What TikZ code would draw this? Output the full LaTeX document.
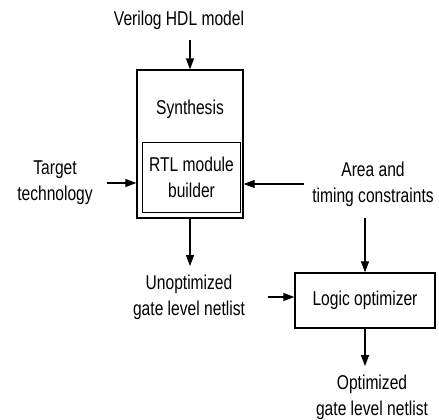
\documentclass[tikz,border=0pt]{standalone}
\usepackage{fontspec}
\setmainfont{Liberation Sans}[FakeStretch=0.78]
\usetikzlibrary{arrows.meta, positioning}

\begin{document}
\begin{tikzpicture}[
    x=1pt, y=1pt,
    every node/.style={font=\fontsize{20}{26}\selectfont, align=center, inner sep=2pt},
    block/.style={draw, line width=1.3pt},
    >={Triangle[length=11pt, width=8pt]},
    every path/.style={line width=1.2pt}
]
\useasboundingbox (0,0) rectangle (439,420);

% boxes
\node[block, minimum width=106pt, minimum height=148pt] (synth) at (190,276) {};
\node[draw, line width=0.6pt, minimum width=98pt, minimum height=70pt] (rtl) at (191.5,243) {RTL module\\builder};
\node (synthlbl) at (190,311) {Synthesis};
\node[block, minimum width=140pt, minimum height=55pt] (logic) at (365,119.5) {Logic optimizer};

% labels
\node (verilog) at (179,400) {Verilog HDL model};
\node (target) at (55,237) {Target\\technology};
\node (area) at (373,236) {Area and\\timing constraints};
\node (unopt) at (189,123) {Unoptimized\\gate level netlist};
\node (opt) at (372,23) {Optimized\\gate level netlist};

% inputs
\draw[->, shorten <=8pt] (synth.north |- verilog.south) -- (synth.north);
\draw[->, shorten <=12pt] (target.east) -- (target.east -| synth.west);
\draw[->] ([xshift=-6pt]area.west) -- (area.west -| synth.east);
\draw[->, shorten <=9pt] (area.south -| logic.north) -- (logic.north);

% outputs
\draw[->, shorten >=6pt] (synth.south) -- (synth.south |- unopt.north);
\draw[->, shorten <=20pt] (unopt.east) -- (unopt.east -| logic.west);
\draw[->, shorten >=6pt] (logic.south) -- (logic.south |- opt.north);

\end{tikzpicture}
\end{document}
